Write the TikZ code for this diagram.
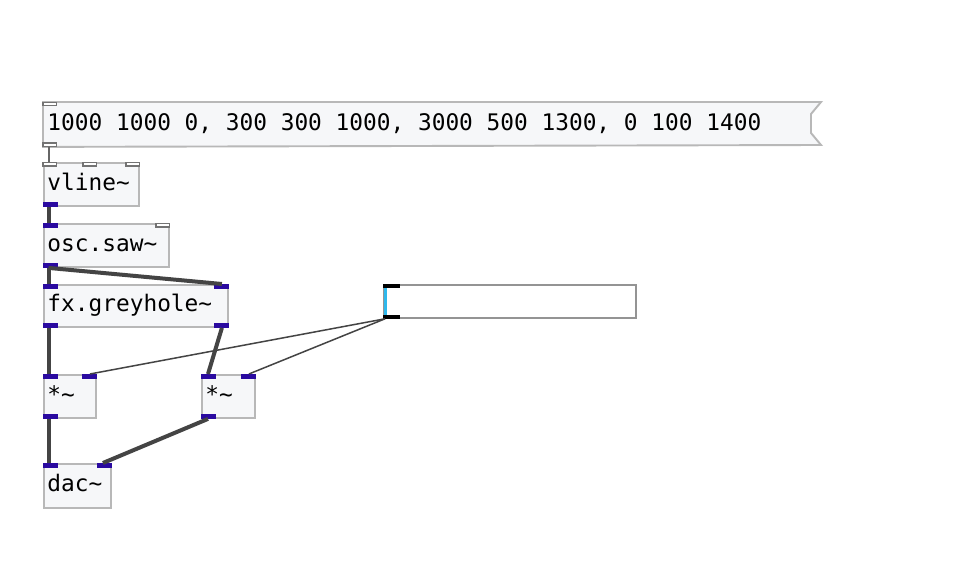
\documentclass[tikz,border=0pt]{standalone}
\usepackage{fontspec}
\setmonofont{DejaVu Sans Mono}
\usetikzlibrary{calc,backgrounds}
\definecolor{boxfill}{HTML}{F6F7F9}
\definecolor{boxline}{HTML}{B8B8B8}
\definecolor{sigblue}{HTML}{2A0AA0}
\definecolor{wire}{HTML}{444444}
\definecolor{slidecyan}{HTML}{2EB8EC}
\newcommand{\pdfont}{\ttfamily\fontsize{22.8}{26}\selectfont\spaceskip=13.73pt\relax}
\tikzset{
  obj/.style={draw=boxline, fill=boxfill, line width=1.9pt, anchor=north west,
    inner xsep=3.5pt, inner ysep=0pt, align=left, font=\pdfont,
    text height=16pt, text depth=4pt},
  sigport/.style={fill=sigblue},
  ctlport/.style={draw=black!55, fill=white, line width=1.2pt},
  sigwire/.style={draw=wire, line width=4pt},
  ctlwire/.style={draw=wire, line width=1.5pt},
}
\newcommand{\sigin}[2]{\fill[sigport] ($(#1)+(#2,0pt)$) rectangle ++(15pt,-4.5pt);}
\newcommand{\sigout}[2]{\fill[sigport] ($(#1)+(#2,0pt)$) rectangle ++(15pt,4.5pt);}
\newcommand{\ctlin}[2]{\draw[ctlport] ($(#1)+(#2,-0.6pt)$) rectangle ++(13.5pt,-3.3pt);}
\newcommand{\ctlout}[2]{\draw[ctlport] ($(#1)+(#2,0.6pt)$) rectangle ++(13.5pt,3.3pt);}
\begin{document}
\begin{tikzpicture}[x=1pt,y=-1pt]
\useasboundingbox (0,0) rectangle (973,567);

% message box
\node[obj, draw=none, fill=none, text width=770pt, minimum height=43pt] (msg) at (43,102) {\spaceskip=13.73pt\relax 1000 1000 0, 300 300 1000, 3000 500 1300, 0 100 1400};
\coordinate (msgR) at (821,102);
\begin{pgfonlayer}{background}
\fill[white] (0,0) rectangle (973,567);
\filldraw[draw=boxline, fill=boxfill, line width=1.9pt]
  (msg.north west) -- (msgR) -- ++(-10pt,-12pt) -- ++(0pt,-19pt) -- ++(10pt,-12pt) -- (msg.south west) -- cycle;
\end{pgfonlayer}

% objects
\node[obj, text width=88pt, minimum height=43pt] (vl) at (43,162) {vline\string~};
\node[obj, text width=118pt, minimum height=43pt] (osc) at (43,223) {osc.saw\string~};
\node[obj, text width=177pt, minimum height=42pt] (gh) at (43,284) {fx.greyhole\string~};
\node[obj, text width=45pt, minimum height=43pt] (m1) at (43,374) {*\string~};
\node[obj, text width=46pt, minimum height=43pt] (m2) at (201,374) {*\string~};
\node[obj, text width=60pt, minimum height=44pt] (dac) at (43,463) {dac\string~};

% slider
\node[draw=black!42, fill=white, line width=1.8pt, anchor=north west, minimum width=252pt, minimum height=33pt, inner sep=0pt] (sl) at (383,284) {};
\fill[black] (sl.north west) rectangle ++(17pt,-4pt);
\fill[black] (sl.south west) rectangle ++(17pt,4pt);
\draw[slidecyan, line width=3pt] ($(sl.north west)+(2.5pt,-4pt)$) -- ($(sl.south west)+(2.5pt,4pt)$);

% ports
\ctlout{msg.south west}{0pt}
\ctlin{msg.north west}{0pt}
\ctlin{vl.north west}{0pt}
\ctlin{vl.north west}{40pt}
\ctlin{vl.north east}{-14pt}
\sigout{vl.south west}{0pt}
\sigin{osc.north west}{0pt}
\ctlin{osc.north east}{-14pt}
\sigout{osc.south west}{0pt}
\sigin{gh.north west}{0pt}
\sigin{gh.north east}{-15pt}
\sigout{gh.south west}{0pt}
\sigout{gh.south east}{-15pt}
\sigin{m1.north west}{0pt}
\sigin{m1.north east}{-15pt}
\sigout{m1.south west}{0pt}
\sigin{m2.north west}{0pt}
\sigin{m2.north east}{-15pt}
\sigout{m2.south west}{0pt}
\sigin{dac.north west}{0pt}
\sigin{dac.north east}{-15pt}

% wires
\draw[draw=black!60, line width=1.5pt] ($(msg.south west)+(6pt,0pt)$) -- ($(vl.north west)+(6pt,0pt)$);
\draw[sigwire] ($(vl.south west)+(5.5pt,0pt)$) -- ($(osc.north west)+(5.5pt,0pt)$);
\draw[sigwire] ($(osc.south west)+(5.5pt,0pt)$) -- ($(gh.north west)+(5.5pt,0pt)$);
\draw[sigwire] ($(osc.south west)+(5.5pt,0pt)$) -- ($(gh.north east)+(-7pt,0pt)$);
\draw[sigwire] ($(gh.south west)+(5.5pt,0pt)$) -- ($(m1.north west)+(5.5pt,0pt)$);
\draw[sigwire] ($(gh.south east)+(-7pt,0pt)$) -- ($(m2.north west)+(7pt,0pt)$);
\draw[ctlwire] ($(sl.south west)+(2pt,0pt)$) -- ($(m1.north east)+(-7pt,0pt)$);
\draw[ctlwire] ($(sl.south west)+(2pt,0pt)$) -- ($(m2.north east)+(-7pt,0pt)$);
\draw[sigwire] ($(m1.south west)+(5.5pt,0pt)$) -- ($(dac.north west)+(5.5pt,0pt)$);
\draw[sigwire] ($(m2.south west)+(7pt,0pt)$) -- ($(dac.north east)+(-9pt,0pt)$);
\end{tikzpicture}
\end{document}
